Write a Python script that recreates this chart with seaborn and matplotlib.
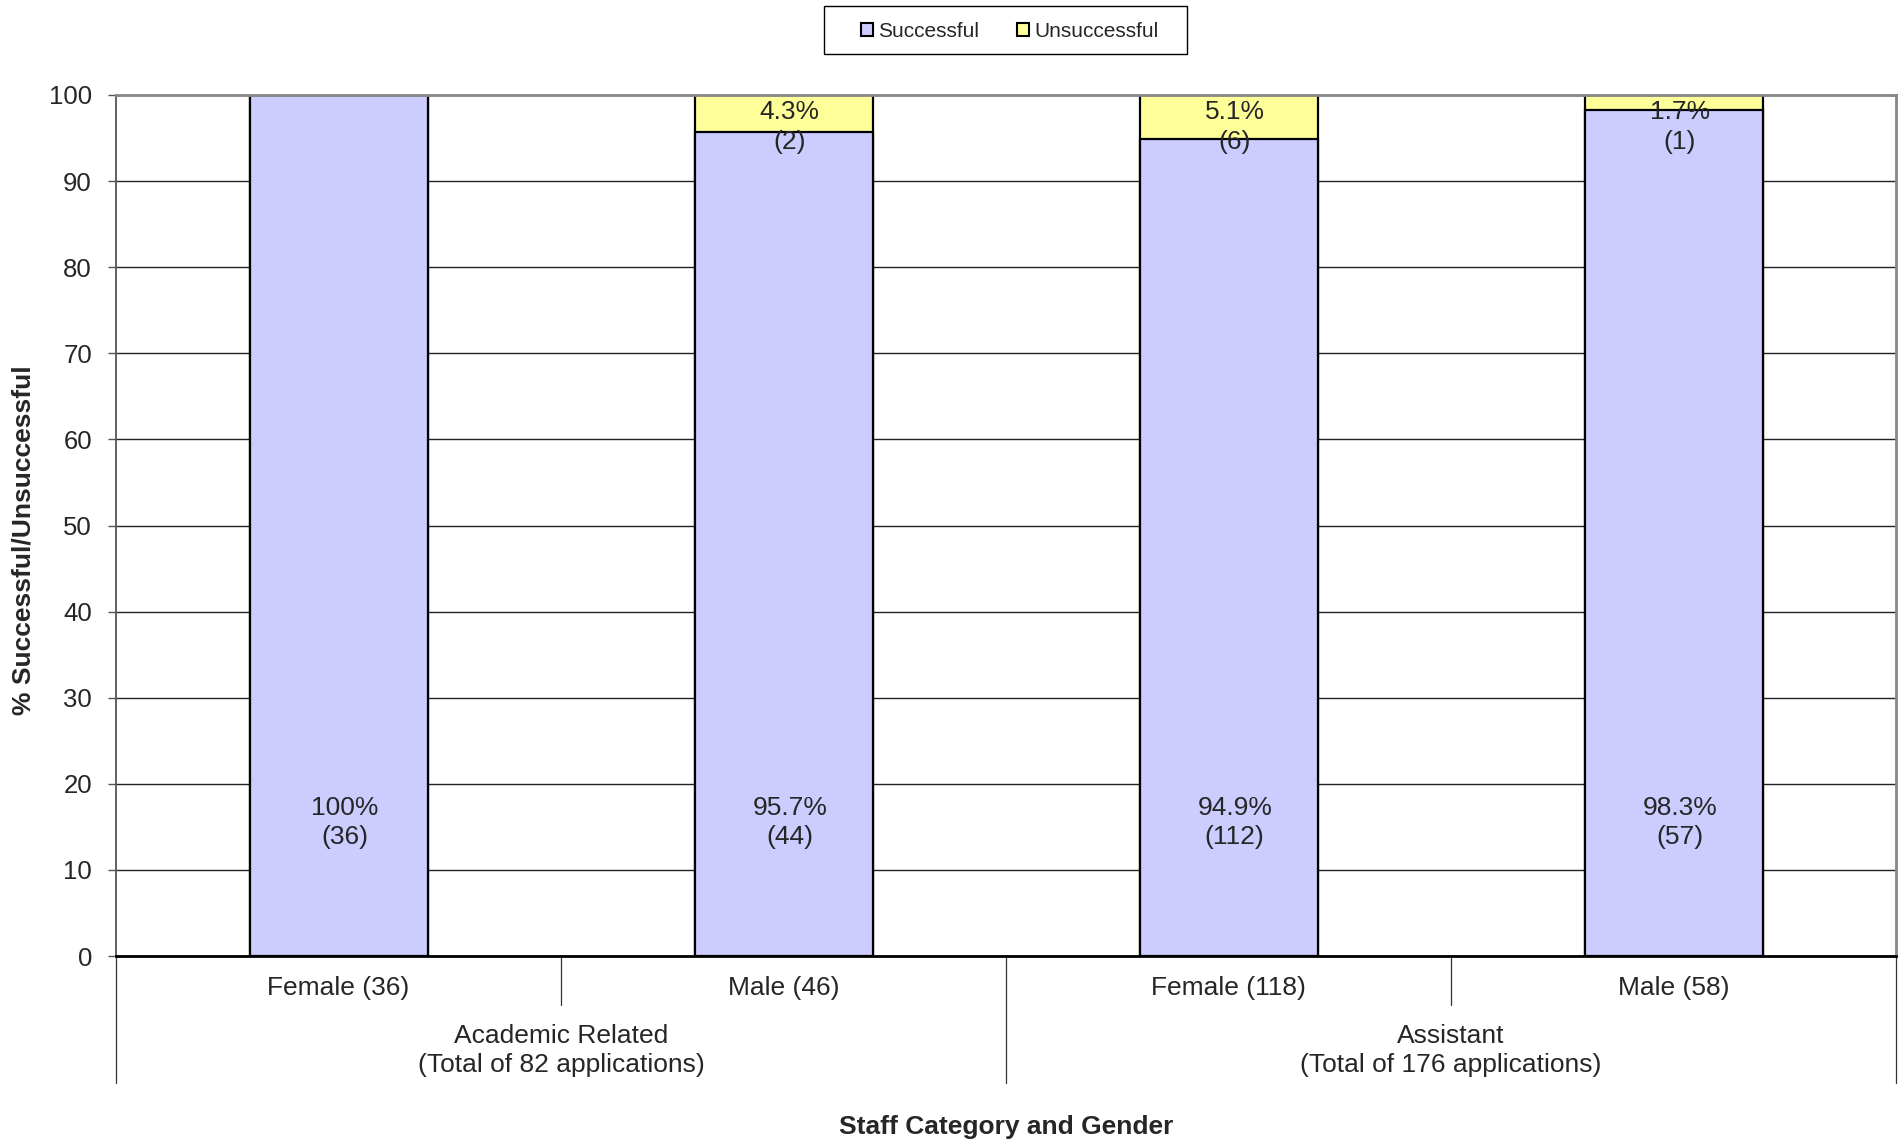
import matplotlib
matplotlib.use("Agg")
import matplotlib.pyplot as plt
import matplotlib.transforms as mtransforms
from matplotlib.patches import Patch, Rectangle
import seaborn as sns
import pandas as pd

# ---- data ----
categories = ["Female (36)", "Male (46)", "Female (118)", "Male (58)"]
group_labels = ["Academic Related\n(Total of 82 applications)",
                "Assistant\n(Total of 176 applications)"]
group_members = [[0, 1], [2, 3]]
successful_pct = [100.0, 95.7, 94.9, 98.3]
unsuccessful_pct = [0.0, 4.3, 5.1, 1.7]
successful_n = [36, 44, 112, 57]
unsuccessful_n = [0, 2, 6, 1]
y_ticks = [0, 10, 20, 30, 40, 50, 60, 70, 80, 90, 100]
series_names = ["Successful", "Unsuccessful"]

SUCC_COL = "#CCCCFF"
UNSUCC_COL = "#FFFF99"

sns.set_style("white")
plt.rcParams["font.family"] = ["Liberation Sans", "DejaVu Sans"]

df = pd.DataFrame({"category": categories,
                   "successful": successful_pct,
                   "unsuccessful": unsuccessful_pct})
df["total"] = df["successful"] + df["unsuccessful"]

W, H = 1898, 1145
fig = plt.figure(figsize=(W / 100, H / 100), dpi=100)
ax = fig.add_axes([116 / W, 1 - 956 / H, (1896 - 116) / W, (956 - 95) / H])

ax.set_axisbelow(True)
ax.yaxis.grid(True, color="#222222", lw=1.0)

sns.barplot(data=df, x="category", y="total", color=UNSUCC_COL, saturation=1,
            edgecolor="black", linewidth=1.6, width=0.4, ax=ax, errorbar=None)
sns.barplot(data=df, x="category", y="successful", color=SUCC_COL, saturation=1,
            edgecolor="black", linewidth=1.6, width=0.4, ax=ax, errorbar=None)

ax.set_xlim(-0.5, len(categories) - 0.5)
ax.set_ylim(0, 100)
ax.set_yticks(y_ticks)
ax.set_yticklabels([str(t) for t in y_ticks], fontsize=18.5)
ax.set_xticks([])
ax.tick_params(axis="y", left=True, length=5.8, width=1, color="#555555", pad=11.5)

for s in ["top", "right"]:
    ax.spines[s].set_color("#888888")
    ax.spines[s].set_linewidth(2)
ax.spines["left"].set_color("#555555")
ax.spines["left"].set_linewidth(1.3)
ax.spines["bottom"].set_color("black")
ax.spines["bottom"].set_linewidth(2)

# value labels (slightly right of bar centre, as in the original)
lab_tr = mtransforms.offset_copy(ax.transData, fig=fig, x=4.5, y=0, units="points")
for i in range(len(categories)):
    p, n = successful_pct[i], successful_n[i]
    if n > 0:
        ax.text(i, 15.5, f"{p:g}%\n({n})", ha="center", va="center",
                fontsize=19, linespacing=1.28, transform=lab_tr)
    u, m = unsuccessful_pct[i], unsuccessful_n[i]
    if m > 0:
        y = min(p + u / 2, 96.3)
        ax.text(i, y, f"{u:g}%\n({m})", ha="center", va="center",
                fontsize=19, linespacing=1.28, transform=lab_tr)

# multi-level category axis
trans = mtransforms.blended_transform_factory(ax.transData, ax.transAxes)
for i, c in enumerate(categories):
    ax.text(i, -0.0372, c, ha="center", va="center", fontsize=19, transform=trans)
bounds_long = set()
for g, members in enumerate(group_members):
    ctr = sum(members) / len(members)
    ax.text(ctr, -0.110, group_labels[g], ha="center", va="center", fontsize=19,
            linespacing=1.28, transform=trans)
    bounds_long.add(members[0] - 0.5)
    bounds_long.add(members[-1] + 0.5)
for k in range(len(categories) + 1):
    b = k - 0.5
    depth = -0.1475 if b in bounds_long else -0.057
    ax.plot([b, b], [0, depth], transform=trans, clip_on=False,
            color="#333333", lw=0.9)

ax.set_xlabel("Staff Category and Gender", fontsize=19, fontweight="bold")
ax.xaxis.set_label_coords(0.5, -0.1986)
ax.xaxis.label.set_va("center")
ax.set_ylabel("% Successful/Unsuccessful", fontsize=19, fontweight="bold")
ax.yaxis.set_label_coords(-0.0517, 0.483)
ax.yaxis.label.set_va("center")

# legend
handles = [Patch(facecolor=SUCC_COL, edgecolor="black", lw=1.5),
           Patch(facecolor=UNSUCC_COL, edgecolor="black", lw=1.5)]
fig.legend(handles, series_names, loc="center", bbox_to_anchor=(0.532, 0.9725),
           ncol=2, frameon=False, fontsize=15, handlelength=0.55,
           handleheight=0.55, handletextpad=0.25, columnspacing=1.85)
fig.patches.append(Rectangle((824 / W, 1 - 54 / H), (1187 - 824) / W, 48 / H,
                             transform=fig.transFigure, fill=False,
                             edgecolor="black", lw=1.0))

fig.savefig("out.png", dpi=100)
